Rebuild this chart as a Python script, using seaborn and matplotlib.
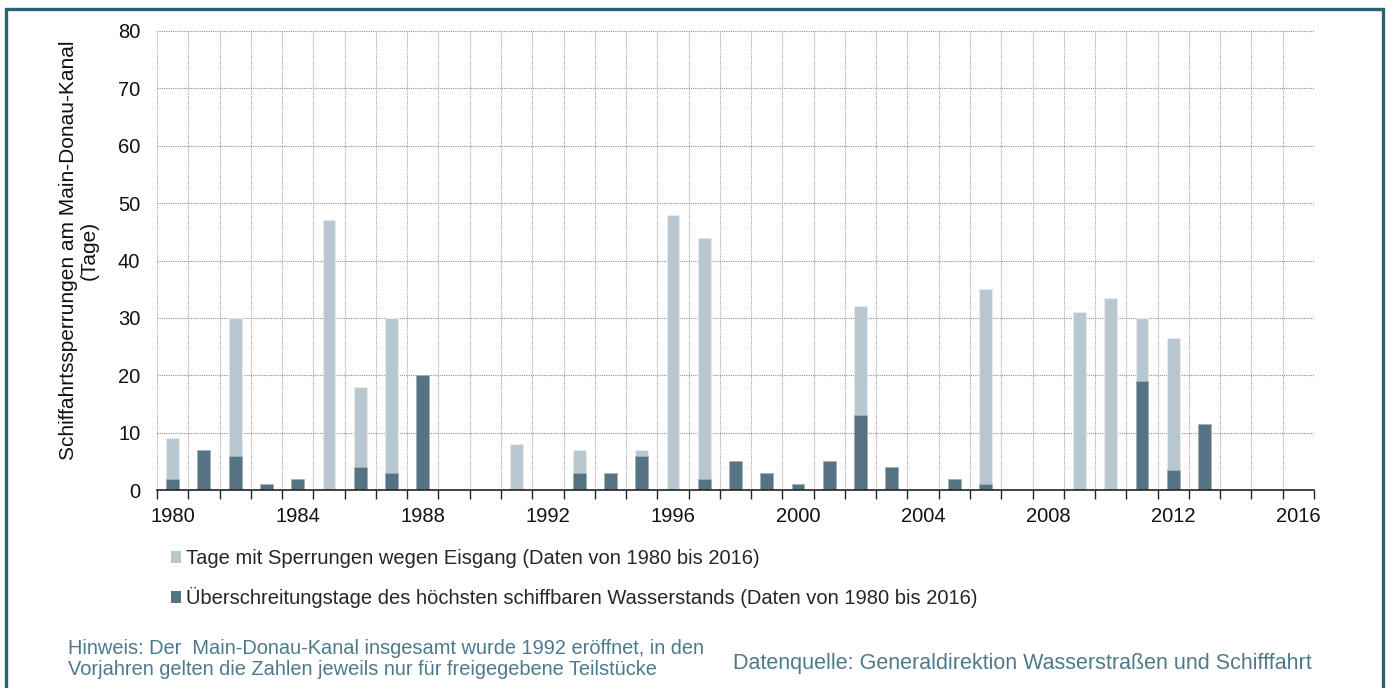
import numpy as np
import pandas as pd
import matplotlib
matplotlib.use("Agg")
import matplotlib.pyplot as plt
from matplotlib.patches import Patch, Rectangle
import seaborn as sns

# Jahre 1980 bis 2016
years = list(range(1980, 2017))

# Tage mit Sperrungen wegen Eisgang
eisgang = [9, 0, 30, 0, 0, 47, 18, 30, 0, 0, 0, 8, 0, 7, 0, 7, 48, 44, 0, 0,
           0, 0, 32, 0, 0, 0, 35, 0, 0, 31, 33.5, 30, 26.5, 0, 0, 0, 0]

# Überschreitungstage des höchsten schiffbaren Wasserstands
hochwasser = [2, 7, 6, 1, 2, 0, 4, 3, 20, 0, 0, 0, 0, 3, 3, 6, 0, 2, 5, 3,
              1, 5, 13, 4, 0, 2, 1, 0, 0, 0, 0, 19, 3.5, 11.5, 0, 0, 0]

label_eis = "Tage mit Sperrungen wegen Eisgang (Daten von 1980 bis 2016)"
label_hw = "Überschreitungstage des höchsten schiffbaren Wasserstands (Daten von 1980 bis 2016)"
y_label = "Schiffahrtssperrungen am Main-Donau-Kanal\n(Tage)"
hinweis = ("Hinweis: Der  Main-Donau-Kanal insgesamt wurde 1992 eröffnet, in den\n"
           "Vorjahren gelten die Zahlen jeweils nur für freigegebene Teilstücke")
quelle = "Datenquelle: Generaldirektion Wasserstraßen und Schifffahrt"

c_light = "#b8c6cf"
c_dark = "#557383"
c_frame = "#2b6274"
c_note = "#4d7a8b"
c_text = "#111111"

sns.set_theme(style="white")
plt.rcParams["font.family"] = ["Liberation Sans", "DejaVu Sans"]

df = pd.DataFrame({"Jahr": [str(y) for y in years],
                   "Eisgang": eisgang,
                   "Hochwasser": hochwasser})

W, H = 1387, 688
fig = plt.figure(figsize=(W / 100, H / 100), dpi=100)
ax = fig.add_axes([157 / W, 1 - 490 / H, (1314 - 157) / W, (490 - 31) / H])

sns.barplot(data=df, x="Jahr", y="Eisgang", color=c_light, width=0.41,
            saturation=1, edgecolor="#e4eaee", linewidth=0.8, ax=ax, zorder=2)
sns.barplot(data=df, x="Jahr", y="Hochwasser", color=c_dark, width=0.41,
            saturation=1, edgecolor="#9fb1bb", linewidth=0.6, ax=ax, zorder=3)

n = len(years)
ax.set_xlim(-0.5, n - 0.5)
ax.set_ylim(0, 80)
ax.set_yticks(np.arange(0, 81, 10))
ax.tick_params(axis="y", length=0, pad=12, labelsize=14.5, labelcolor=c_text)

# Beschriftung alle vier Jahre, Teilstriche an den Kategoriegrenzen
major = [i for i, y in enumerate(years) if y % 4 == 0]
ax.set_xticks(major)
ax.set_xticklabels([str(years[i]) for i in major])
ax.set_xticks(np.arange(-0.5, n, 1.0), minor=True)
ax.tick_params(axis="x", which="major", length=0, pad=12, labelsize=14.5,
               labelcolor=c_text)
ax.tick_params(axis="x", which="minor", length=6.5, width=1, color="#222222",
               direction="out", bottom=True)

ax.grid(False)
for v in np.arange(10, 81, 10):
    ax.axhline(v, color="#8f8f8f", lw=0.8, ls=(0, (1, 1)), zorder=1)
for b in np.arange(-0.5, n, 1.0):
    ax.axvline(b, color="#a5a5a5", lw=0.8, ls=(0, (1, 1)), zorder=1)

for s in ["top", "right", "left"]:
    ax.spines[s].set_visible(False)
ax.spines["bottom"].set_color("#222222")
ax.spines["bottom"].set_linewidth(1.2)
ax.spines["bottom"].set_zorder(4)
ax.set_xlabel("")
ax.set_ylabel("")

fig.text(79 / W, 1 - 250 / H, y_label, rotation=90, ha="center", va="center",
         multialignment="center", fontsize=15, color=c_text, linespacing=1.1)

handles = [Patch(facecolor=c_light, edgecolor="none"),
           Patch(facecolor=c_dark, edgecolor="none")]
fig.legend(handles, [label_eis, label_hw], loc="upper left",
           bbox_to_anchor=(171 / W, 1 - 549 / H), frameon=False, fontsize=14.5,
           handlelength=0.5, handleheight=0.5, handletextpad=0.25,
           labelspacing=0.94, borderaxespad=0, borderpad=0)

fig.text(68 / W, 1 - 659 / H, hinweis, ha="left", va="center", fontsize=14.4,
         color=c_note, linespacing=1.1)
fig.text(733 / W, 1 - 663 / H, quelle, ha="left", va="center", fontsize=15.5,
         color=c_note)

fig.patches.append(Rectangle((6 / W, -0.05), (1383 - 6) / W, 1.05 - 9 / H,
                             transform=fig.transFigure, fill=False,
                             edgecolor=c_frame, linewidth=2.4, zorder=10))

fig.savefig("out.png", dpi=100)
